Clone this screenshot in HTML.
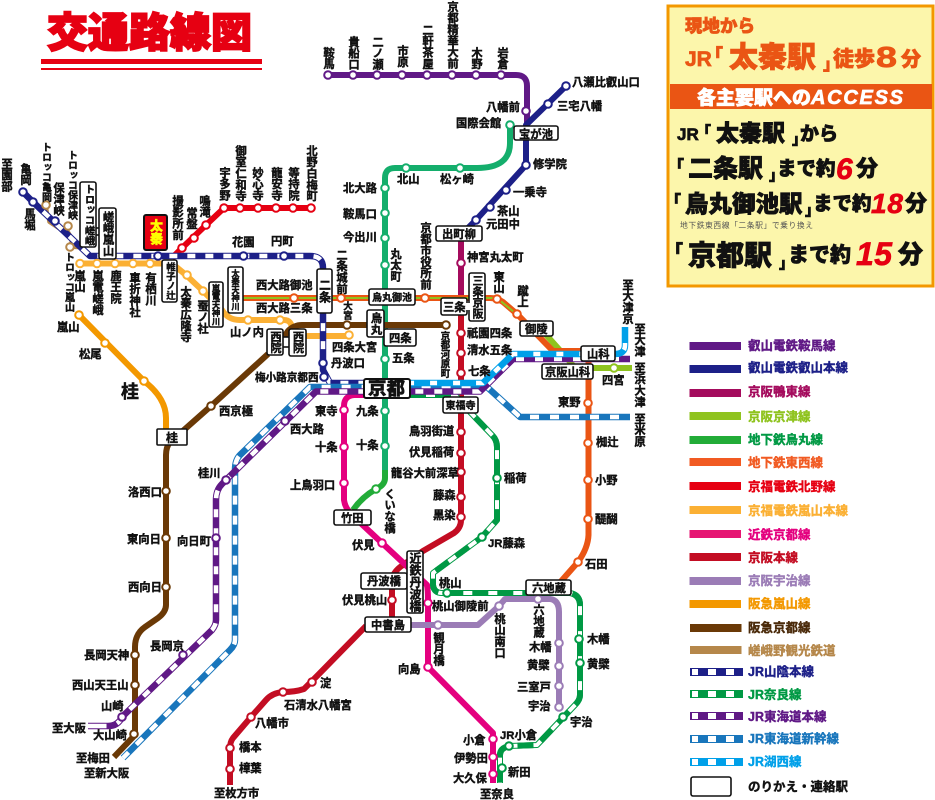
<!DOCTYPE html>
<html lang="ja"><head><meta charset="utf-8"><title>交通路線図</title>
<style>
html,body{margin:0;padding:0;background:#fff}
svg{display:block}
text{font-family:"Liberation Sans","Noto Sans CJK JP",sans-serif;font-weight:700;fill:#111;font-size:11.3px;stroke:#111;stroke-width:.4px}
.v{writing-mode:vertical-rl;text-orientation:upright}
.l{fill:none;stroke-linecap:butt;stroke-linejoin:round}
.h{font-weight:900;stroke-width:.7px}
</style></head><body>
<svg width="935" height="800" viewBox="0 0 935 800" xmlns="http://www.w3.org/2000/svg">
<rect width="935" height="800" fill="#fff"/>
<!-- title -->
<text x="47" y="47" style="font-size:41px;font-weight:900;fill:#e60012;stroke:#e60012;stroke-width:1.8px">交通路線図</text>
<rect x="41" y="59" width="221" height="5" fill="#e60012"/>
<rect x="41" y="68" width="221" height="2" fill="#e60012"/>

<!-- lines: solid -->
<g class="l" stroke-width="6">
<path stroke="#601986" d="M328 75H516Q527 75 527 86V125"/>
<path stroke="#1d2088" d="M566 86L526 125V165L476 220L462 234"/>
<path stroke="#a40b5d" d="M461 232V300"/>
<path stroke="#14ae6c" d="M510 125V143Q510 168 477 168H395Q385 168 385 178V300"/>
<path stroke="#14ae6c" d="M385 300V470"/>
<path stroke="#22ac38" d="M385 470V478Q385 485 376 489Q362 497 353 510"/>
<path stroke="#8fc31f" d="M540 328L565 356L575 368H632"/>
<path stroke="#ea5514" d="M243 298H490Q497 298 503 302L517 314L553 351H590"/>
<path stroke="#8fc31f" stroke-width="2" d="M243 298H497L520 317"/>
<path stroke="#ea5514" d="M588.500 360V535Q588 548 578 562L556 587"/>
<path stroke="#fbb034" d="M80 263.500H172L186 275L203 291L222 310Q228 320 240 320H284Q292 320 292 330"/>
<path stroke="#fbb034" d="M300 336H349"/>
<path stroke="#e60012" d="M172 258L182 248L206 225L224 208H311"/>
<path stroke="#6a3906" d="M446 325H302Q294 325 288 331L282 340"/>
<path stroke="#6a3906" d="M268 354L211 406L176 437L170 442Q166 447 166 455V605Q166 612 158 618L145 627Q135 634 135 647V735L114 757"/>
<path stroke="#f39800" d="M79 315L144 381Q166 398 166 418V430"/>
<path stroke="#b5874a" stroke-width="3.500" d="M46 205L49 222L58 228H66L72 238L70 247L85 248"/>
<path stroke="#c30d23" d="M461 305V520Q461 528 454 533L423 551L403 565Q392 572 392 582V620"/>
<path stroke="#c30d23" d="M366 626L318 675L304 689Q295 692 283 692Q272 693 266 700L251 717L233 738Q230 742 230 748V785"/>
<path stroke="#e4007f" d="M364 395H354Q344 396 344 406V500Q345 508 352 515L382 543L427 585Q428 590 428 600V667L493 733V783"/>
<path stroke="#9b7cb6" d="M405 625H478L499 606L505 599H550Q559 600 559 612V707"/>
</g>

<!-- JR dashed -->
<g class="l">
<!-- Sanin -->
<g stroke-width="6.500">
<path stroke="#1d2088" d="M23 192L33 202L90 256H310Q323 256 323 268V370L330 383H366"/>
<path stroke="#fff" stroke-width="4.500" d="M23 192L33 202L90 256H310Q323 256 323 268V370L330 383H366"/>
<path stroke="#1d2088" stroke-width="6" stroke-dasharray="10 8" d="M23 192L33 202L90 256H310Q323 256 323 268V370L330 383H366"/>
</g>
<!-- Nara -->
<g stroke-width="6">
<path stroke="#009944" d="M410 395H455L470 412L492 435Q497 440 497 447V520L482 537L433 573V585Q434 593 442 593H570Q580 595 580 605V695Q580 700 575 705L537 745L509 746Q500 748 500 755V783"/>
<path stroke="#fff" stroke-width="4" d="M410 395H455L470 412L492 435Q497 440 497 447V520L482 537L433 573V585Q434 593 442 593H570Q580 595 580 605V695Q580 700 575 705L537 745L509 746Q500 748 500 755V783"/>
<path stroke="#009944" stroke-width="6" stroke-dasharray="16 9" d="M410 395H455L470 412L492 435Q497 440 497 447V520L482 537L433 573V585Q434 593 442 593H570Q580 595 580 605V695Q580 700 575 705L537 745L509 746Q500 748 500 755V783"/>
</g>
<!-- Shinkansen -->
<g stroke-width="6.500">
<path stroke="#1976bc" d="M630 417H520L487 387H310L240 455Q235 460 235 470V640Q235 645 230 650L123 758"/>
<path stroke="#fff" stroke-width="4.500" d="M630 417H520L487 387H310L240 455Q235 460 235 470V640Q235 645 230 650L123 758"/>
<path stroke="#1976bc" stroke-width="6" stroke-dasharray="11 9" d="M630 417H520L487 387H310L240 455Q235 460 235 470V640Q235 645 230 650L123 758"/>
</g>
<!-- Tokaido -->
<g stroke-width="6.500">
<path stroke="#601986" d="M630 359H513L480 391.500H316L226 480L222 484Q216 490 216 500V620Q216 625 212 630L122 717Q118 726 108 726H88"/>
<path stroke="#fff" stroke-width="4.500" d="M630 359H513L480 391.500H316L226 480L222 484Q216 490 216 500V620Q216 625 212 630L122 717Q118 726 108 726H88"/>
<path stroke="#601986" stroke-width="6" stroke-dasharray="11 8" d="M630 359H513L480 391.500H316L226 480L222 484Q216 490 216 500V620Q216 625 212 630L122 717Q118 726 108 726H100"/>
</g>
<!-- Kosei -->
<g stroke-width="6.500">
<path stroke="#00a0e9" d="M625 327V345Q625 354 615 354H513L483 383H410"/>
<path stroke="#fff" stroke-width="4.500" d="M625 327V345Q625 354 615 354H513L483 383H410"/>
<path stroke="#00a0e9" stroke-width="6" stroke-dasharray="16 7" d="M625 327V345Q625 354 615 354H513L483 383H410"/>
</g>
</g>

<!-- stations -->
<g fill="#fff" stroke-width="2">
<g stroke="#601986"><circle cx="328" cy="75" r="3.800"/><circle cx="353" cy="75" r="3.800"/><circle cx="377" cy="75" r="3.800"/><circle cx="402" cy="75" r="3.800"/><circle cx="427" cy="75" r="3.800"/><circle cx="452" cy="75" r="3.800"/><circle cx="476" cy="75" r="3.800"/><circle cx="501" cy="75" r="3.800"/><circle cx="526" cy="111" r="3.800"/>
<circle cx="285" cy="421" r="3.800"/><circle cx="226" cy="480" r="3.800"/><circle cx="216" cy="538" r="3.800"/><circle cx="183" cy="655" r="3.800"/><circle cx="122" cy="717" r="3.800"/></g>
<g stroke="#1d2088"><circle cx="566" cy="86" r="3.800"/><circle cx="548" cy="104" r="3.800"/><circle cx="526" cy="165" r="3.800"/><circle cx="506" cy="190" r="3.800"/><circle cx="490" cy="207" r="3.800"/><circle cx="476" cy="220" r="3.800"/>
<circle cx="23" cy="192" r="3.800"/><circle cx="33" cy="202" r="3.800"/><circle cx="55" cy="221" r="3.800"/><circle cx="158" cy="256" r="3.800"/><circle cx="243.500" cy="256" r="3.800"/><circle cx="284" cy="256" r="3.800"/><circle cx="323" cy="363" r="3.800"/><circle cx="324" cy="377" r="3.800"/></g>
<g stroke="#a40b5d"><circle cx="461" cy="263" r="3.800"/></g>
<g stroke="#14ae6c"><circle cx="510" cy="125" r="3.800"/><circle cx="460" cy="168" r="3.800"/><circle cx="406" cy="168" r="3.800"/><circle cx="385" cy="188" r="3.800"/><circle cx="385" cy="213" r="3.800"/><circle cx="385" cy="238" r="3.800"/><circle cx="385" cy="265" r="3.800"/><circle cx="385" cy="359" r="3.800"/><circle cx="385" cy="411" r="3.800"/><circle cx="385" cy="446" r="3.800"/></g>
<g stroke="#22ac38"><circle cx="376" cy="489" r="3.800"/></g>
<g stroke="#ea5514"><circle cx="294" cy="298" r="3.800"/><circle cx="341" cy="298" r="3.800"/><circle cx="425" cy="298" r="3.800"/><circle cx="497" cy="299" r="3.800"/><circle cx="517" cy="314" r="3.800"/><circle cx="588" cy="403" r="3.800"/><circle cx="588" cy="443" r="3.800"/><circle cx="588" cy="480" r="3.800"/><circle cx="588" cy="519" r="3.800"/><circle cx="578" cy="562" r="3.800"/></g>
<g stroke="#8fc31f"><circle cx="614" cy="368" r="3.800"/></g>
<g stroke="#e60012"><circle cx="311" cy="208" r="3.800"/><circle cx="293" cy="208" r="3.800"/><circle cx="276" cy="208" r="3.800"/><circle cx="258" cy="208" r="3.800"/><circle cx="240" cy="208" r="3.800"/><circle cx="224" cy="208" r="3.800"/><circle cx="206" cy="225" r="3.800"/><circle cx="194" cy="238" r="3.800"/><circle cx="182" cy="248" r="3.800"/></g>
<g stroke="#fbb034"><circle cx="80" cy="263.500" r="3.800"/><circle cx="97" cy="263.500" r="3.800"/><circle cx="115" cy="263.500" r="3.800"/><circle cx="133" cy="263.500" r="3.800"/><circle cx="150" cy="263.500" r="3.800"/><circle cx="187" cy="275" r="3.800"/><circle cx="203" cy="291" r="3.800"/><circle cx="248" cy="320" r="3.800"/><circle cx="280" cy="320" r="3.800"/><circle cx="349" cy="335" r="3.800"/></g>
<g stroke="#6a3906"><circle cx="446" cy="325" r="3.800"/><circle cx="347" cy="325" r="3.800"/><circle cx="211" cy="406" r="3.800"/><circle cx="166" cy="491" r="3.800"/><circle cx="166" cy="538" r="3.800"/><circle cx="166" cy="587" r="3.800"/><circle cx="135" cy="655" r="3.800"/><circle cx="135" cy="685" r="3.800"/><circle cx="134" cy="734" r="3.800"/></g>
<g stroke="#f39800"><circle cx="79" cy="315" r="3.800"/><circle cx="105" cy="343" r="3.800"/><circle cx="144" cy="381" r="3.800"/></g>
<g stroke="#b5874a"><circle cx="46" cy="205" r="3.800"/><circle cx="68" cy="226" r="3.800"/><circle cx="70" cy="247" r="3.800"/></g>
<g stroke="#c30d23"><circle cx="461" cy="333" r="3.800"/><circle cx="461" cy="353" r="3.800"/><circle cx="461" cy="373" r="3.800"/><circle cx="461" cy="432" r="3.800"/><circle cx="461" cy="453" r="3.800"/><circle cx="461" cy="472" r="3.800"/><circle cx="461" cy="497" r="3.800"/><circle cx="461" cy="517" r="3.800"/><circle cx="392" cy="600" r="3.800"/><circle cx="312" cy="682" r="3.800"/><circle cx="283" cy="692" r="3.800"/><circle cx="251" cy="717" r="3.800"/><circle cx="230" cy="748" r="3.800"/><circle cx="230" cy="769" r="3.800"/></g>
<g stroke="#e4007f"><circle cx="344" cy="410" r="3.800"/><circle cx="344" cy="447" r="3.800"/><circle cx="344" cy="483" r="3.800"/><circle cx="382" cy="543" r="3.800"/><circle cx="428" cy="603" r="3.800"/><circle cx="428" cy="667" r="3.800"/><circle cx="493" cy="739" r="3.800"/><circle cx="493" cy="757" r="3.800"/><circle cx="493" cy="774" r="3.800"/></g>
<g stroke="#9b7cb6"><circle cx="438" cy="625" r="3.800"/><circle cx="499" cy="606" r="3.800"/><circle cx="538" cy="599" r="3.800"/><circle cx="559" cy="643" r="3.800"/><circle cx="559" cy="666" r="3.800"/><circle cx="559" cy="686" r="3.800"/><circle cx="559" cy="707" r="3.800"/></g>
<g stroke="#009944"><circle cx="497" cy="478" r="3.800"/><circle cx="482" cy="537" r="3.800"/><circle cx="447" cy="593" r="3.800"/><circle cx="579" cy="639" r="3.800"/><circle cx="580" cy="663" r="3.800"/><circle cx="563" cy="717" r="3.800"/><circle cx="509" cy="746" r="3.800"/><circle cx="502" cy="768" r="3.800"/></g>
</g>

<!-- transfer boxes -->
<g fill="#fff" stroke="#111" stroke-width="1.600">
<rect x="95" y="228" width="6" height="7"/>
<rect x="80" y="182" width="16" height="65" rx="2"/><rect x="99" y="208" width="17" height="51" rx="2"/>
<rect x="162" y="260" width="15" height="42" rx="2"/><rect x="209" y="282" width="14" height="45" rx="2"/><rect x="228" y="267" width="15" height="46" rx="2"/>
<rect x="281" y="337" width="10" height="10"/>
<rect x="267" y="329" width="16" height="26" rx="2"/><rect x="289" y="329" width="17" height="27" rx="2"/>
<rect x="317" y="269" width="15" height="44" rx="2"/><rect x="369" y="289" width="46" height="16" rx="2"/>
<rect x="367" y="310" width="17" height="27" rx="2"/><rect x="384" y="329" width="32" height="17" rx="2"/>
<rect x="364" y="379" width="46" height="19" rx="2" stroke-width="2"/>
<rect x="441" y="298" width="26" height="17" rx="2"/><rect x="469" y="273" width="16" height="48" rx="2"/><rect x="466" y="303" width="4" height="7" stroke="none"/>
<rect x="443" y="397" width="35" height="16" rx="2"/><rect x="520" y="321" width="33" height="15" rx="2"/>
<rect x="581" y="346" width="34" height="15" rx="2"/><rect x="542" y="364" width="51" height="15" rx="2"/>
<rect x="334" y="510" width="37" height="15" rx="2"/><rect x="361" y="573" width="46" height="16" rx="2"/>
<rect x="407" y="551" width="16" height="62" rx="2"/><rect x="365" y="617" width="46" height="15" rx="2"/>
<rect x="526" y="580" width="45" height="15" rx="2"/><rect x="157" y="429" width="30" height="16" rx="1"/>
<rect x="514" y="126" width="44" height="14" rx="2"/><rect x="436" y="226" width="46" height="15" rx="2"/>
<rect x="691" y="777" width="40" height="19" rx="2"/>
</g>
<rect x="144" y="215" width="23" height="35" rx="2" fill="#e60012" stroke="#111" stroke-width="2"/>
<text class="v" x="155.500" y="219" style="font-size:13px;fill:#ff0;stroke:#ff0;font-weight:900">太秦</text>

<!-- box labels -->
<g>
<text class="v" x="88" y="184" style="font-size:10.300px">トロッコ嵯峨</text>
<text class="v" x="107.500" y="211" style="font-size:11.300px">嵯峨嵐山</text>
<text class="v" x="169.500" y="262" style="font-size:9.500px">帷子ノ辻</text>
<text class="v" x="216" y="284" style="font-size:8.300px">嵐電天神川</text>
<text class="v" x="235.500" y="269" style="font-size:8.300px">太秦天神川</text>
<text class="v" x="275" y="331" style="font-size:11.300px">西院</text>
<text class="v" x="297.500" y="331" style="font-size:11.300px">西院</text>
<text class="v" x="324.500" y="279" style="font-size:12px">二条</text>
<text x="372" y="301" style="font-size:10px">烏丸御池</text>
<text class="v" x="375.500" y="312" style="font-size:11.500px">烏丸</text>
<text x="389" y="342" style="font-size:11.300px">四条</text>
<text x="368" y="395" style="font-size:18.500px;font-weight:900">京都</text>
<text x="443" y="311" style="font-size:11.300px">三条</text>
<text class="v" x="477" y="275" style="font-size:11px">三条京阪</text>
<text x="445.500" y="409" style="font-size:10px">東福寺</text>
<text x="525" y="333" style="font-size:11.300px">御陵</text>
<text x="587" y="358" style="font-size:11.300px">山科</text>
<text x="545" y="376" style="font-size:11.300px">京阪山科</text>
<text x="341" y="522" style="font-size:11.300px">竹田</text>
<text x="367" y="585" style="font-size:11.300px">丹波橋</text>
<text class="v" x="415" y="552" style="font-size:12px">近鉄丹波橋</text>
<text x="371" y="629" style="font-size:11.300px">中書島</text>
<text x="532" y="592" style="font-size:11.300px">六地蔵</text>
<text x="166" y="442" style="font-size:12px">桂</text>
<text x="519" y="138" style="font-size:11.300px">宝が池</text>
<text x="442" y="238" style="font-size:11.300px">出町柳</text>
</g>

<!-- vertical labels -->
<g>
<text class="v" x="6" y="158">至園部</text>
<text class="v" x="25" y="163">亀岡</text>
<text class="v" x="29" y="208">馬堀</text>
<text class="v" x="45" y="142" style="font-size:10px">トロッコ亀岡</text>
<text class="v" x="58" y="182">保津峡</text>
<text class="v" x="71" y="150" style="font-size:10px">トロッコ保津峡</text>
<text class="v" x="68" y="252" style="font-size:10px">トロッコ嵐山</text>
<text class="v" x="79" y="270">嵐山</text>
<text class="v" x="97" y="270">嵐電嵯峨</text>
<text class="v" x="115" y="270">鹿王院</text>
<text class="v" x="134" y="272">車折神社</text>
<text class="v" x="150" y="272">有栖川</text>
<text class="v" x="185" y="286">太秦広隆寺</text>
<text class="v" x="202" y="300">蚕ノ社</text>
<text class="v" x="177" y="195">撮影所前</text>
<text class="v" x="191" y="207">常盤</text>
<text class="v" x="204" y="195">鳴滝</text>
<text class="v" x="224" y="167">宇多野</text>
<text class="v" x="240" y="145">御室仁和寺</text>
<text class="v" x="257" y="167">妙心寺</text>
<text class="v" x="276" y="167">龍安寺</text>
<text class="v" x="293" y="167">等持院</text>
<text class="v" x="311" y="145">北野白梅町</text>
<text class="v" x="328" y="47">鞍馬</text>
<text class="v" x="353" y="36">貴船口</text>
<text class="v" x="377" y="36">二ノ瀬</text>
<text class="v" x="402" y="45">市原</text>
<text class="v" x="427" y="24">二軒茶屋</text>
<text class="v" x="452" y="1">京都精華大前</text>
<text class="v" x="476" y="47">木野</text>
<text class="v" x="502" y="47">岩倉</text>
<text class="v" x="395" y="248">丸太町</text>
<text class="v" x="341" y="249">二条城前</text>
<text class="v" x="425" y="222">京都市役所前</text>
<text class="v" x="498" y="271">東山</text>
<text class="v" x="522" y="285">蹴上</text>
<text class="v" x="346.500" y="301" style="font-size:9.500px">大宮</text>
<text class="v" x="445" y="331" style="font-size:9.400px">京都河原町</text>
<text class="v" x="389" y="488">くいな橋</text>
<text class="v" x="627" y="279">至大津京</text>
<text class="v" x="639" y="323">至大津</text>
<text class="v" x="639" y="362">至浜大津</text>
<text class="v" x="639" y="413">至米原</text>
<text class="v" x="438" y="632">観月橋</text>
<text class="v" x="499" y="613">桃山南口</text>
<text class="v" x="538" y="604">六地蔵</text>
</g>

<!-- horizontal labels -->
<g>
<text x="232" y="246">花園</text><text x="271" y="245">円町</text>
<text x="256" y="289">西大路御池</text><text x="256" y="312">西大路三条</text>
<text x="230" y="336">山ノ内</text><text x="57" y="331">嵐山</text><text x="79" y="358">松尾</text>
<text x="121" y="398" style="font-size:18px">桂</text>
<text x="332" y="351">四条大宮</text><text x="331" y="367">丹波口</text>
<text x="255" y="381" style="font-size:10.600px">梅小路京都西</text><text x="392" y="362">五条</text>
<text x="467" y="337">祇園四条</text><text x="467" y="354">清水五条</text><text x="468" y="375">七条</text>
<text x="315" y="415">東寺</text><text x="356" y="415">九条</text><text x="290" y="433">西大路</text>
<text x="315" y="451">十条</text><text x="356" y="449">十条</text><text x="290" y="489">上鳥羽口</text>
<text x="352" y="549">伏見</text>
<text x="409" y="435">鳥羽街道</text><text x="409" y="456">伏見稲荷</text><text x="391" y="477">龍谷大前深草</text>
<text x="433" y="499">藤森</text><text x="433" y="519">黒染</text>
<text x="504" y="482">稲荷</text><text x="488" y="547">JR藤森</text>
<text x="558" y="406">東野</text><text x="596" y="446">椥辻</text><text x="595" y="484">小野</text><text x="595" y="523">醍醐</text>
<text x="585" y="568">石田</text><text x="602" y="384">四宮</text>
<text x="439" y="587">桃山</text><text x="432" y="610">桃山御陵前</text><text x="342" y="604">伏見桃山</text>
<text x="529" y="651">木幡</text><text x="527" y="669">黄檗</text><text x="517" y="691">三室戸</text><text x="528" y="710">宇治</text>
<text x="587" y="643">木幡</text><text x="587" y="668">黄檗</text><text x="570" y="726">宇治</text>
<text x="398" y="673">向島</text><text x="463" y="744">小倉</text><text x="454" y="762">伊勢田</text><text x="453" y="782">大久保</text>
<text x="500" y="739">JR小倉</text><text x="508" y="776">新田</text><text x="480" y="798">至奈良</text>
<text x="320" y="687">淀</text><text x="284" y="709">石清水八幡宮</text><text x="255" y="727">八幡市</text>
<text x="239" y="751">橋本</text><text x="239" y="772">樟葉</text><text x="214" y="797">至枚方市</text>
<text x="219" y="415">西京極</text><text x="198" y="477">桂川</text><text x="177" y="545">向日町</text>
<text x="128" y="496">洛西口</text><text x="127" y="543">東向日</text><text x="128" y="591">西向日</text>
<text x="84" y="659">長岡天神</text><text x="150" y="650">長岡京</text><text x="72" y="689">西山天王山</text>
<text x="101" y="710">山崎</text><text x="52" y="732">至大阪</text><text x="93" y="739">大山崎</text>
<text x="76" y="762">至梅田</text><text x="84" y="777">至新大阪</text>
<text x="486" y="111">八幡前</text><text x="456" y="127">国際会館</text>
<text x="572" y="86">八瀬比叡山口</text><text x="557" y="110">三宅八幡</text>
<text x="533" y="168">修学院</text><text x="513" y="196">一乗寺</text><text x="497" y="215">茶山</text><text x="486" y="228">元田中</text>
<text x="467" y="261">神宮丸太町</text>
<text x="397" y="183">北山</text><text x="440" y="183">松ヶ崎</text>
<text x="343" y="192">北大路</text><text x="343" y="218">鞍馬口</text><text x="343" y="241">今出川</text>
</g>

<!-- info panel -->
<rect x="668" y="6" width="265" height="280" fill="#fcf6ab" stroke="#f39800" stroke-width="3"/>
<g style="font-weight:900">
<text x="685" y="32" class="h" style="font-size:17.500px;fill:#ea5514;stroke:#ea5514">現地から</text>
<text x="685" y="66" class="h" style="font-size:21px;fill:#ea5514;stroke:#ea5514">JR</text>
<text x="705" y="62" class="h" style="font-size:18px;fill:#ea5514;stroke:#ea5514">「</text>
<text x="729" y="67" class="h" style="font-size:29px;fill:#ea5514;stroke:#ea5514">太秦駅</text>
<text x="823" y="70" class="h" style="font-size:17px;fill:#ea5514;stroke:#ea5514">」</text>
<text x="833" y="66" class="h" style="font-size:21px;fill:#ea5514;stroke:#ea5514">徒歩</text>
<text transform="translate(876,67) scale(1.300,1)" class="h" style="font-size:29px;fill:#ea5514;stroke:#ea5514">8</text>
<text x="901" y="66" class="h" style="font-size:20px;fill:#ea5514;stroke:#ea5514">分</text>
<rect x="670" y="84" width="262" height="25" fill="#ea5514"/>
<text x="697" y="104" class="h" style="font-size:19px;fill:#fff;stroke:#fff">各主要駅への</text>
<text x="811" y="104" class="h" style="font-size:20px;fill:#fff;stroke:#fff;font-style:italic" textLength="92">ACCESS</text>

<text x="677" y="140" class="h" style="font-size:17px">JR</text>
<text x="696" y="137" class="h" style="font-size:15px">「</text>
<text x="716" y="141" class="h" style="font-size:23px">太秦駅</text>
<text x="792" y="144" class="h" style="font-size:15px">」</text>
<text x="800" y="140" class="h" style="font-size:19px">から</text>

<text x="668" y="172" class="h" style="font-size:16px">「</text>
<text x="688" y="177" class="h" style="font-size:25px">二条駅</text>
<text x="769" y="180" class="h" style="font-size:15px">」</text>
<text x="777" y="175" class="h" style="font-size:19.500px">まで約</text>
<text x="836" y="179" class="h" style="font-size:30px;fill:#e60012;stroke:#e60012;font-style:italic">6</text>
<text x="856" y="176" class="h" style="font-size:22px">分</text>

<text x="665" y="207" class="h" style="font-size:16px">「</text>
<text x="685" y="212" class="h" style="font-size:23.500px">烏丸御池駅</text>
<text x="805" y="215" class="h" style="font-size:15px">」</text>
<text x="813" y="210" class="h" style="font-size:19.500px">まで約</text>
<text x="871" y="213" class="h" style="font-size:28px;fill:#e60012;stroke:#e60012;font-style:italic" textLength="32">18</text>
<text x="905" y="211" class="h" style="font-size:22px">分</text>

<text x="680" y="228" style="font-size:7.800px;fill:#555;stroke:none;font-weight:400;letter-spacing:.55px">地下鉄東西線「二条駅」で乗り換え</text>

<text x="665" y="258" class="h" style="font-size:18px">「</text>
<text x="688" y="265" class="h" style="font-size:28px">京都駅</text>
<text x="779" y="268" class="h" style="font-size:15px">」</text>
<text x="788" y="262" class="h" style="font-size:21px">まで約</text>
<text x="856" y="265" class="h" style="font-size:32px;fill:#e60012;stroke:#e60012;font-style:italic" textLength="36">15</text>
<text x="898" y="263" class="h" style="font-size:25px">分</text>
</g>

<!-- legend -->
<g>
<rect x="689.500" y="342" width="51.500" height="8" fill="#601986"/>
<rect x="689.500" y="365" width="51.500" height="8" fill="#1d2088"/>
<rect x="689.500" y="389" width="51.500" height="8" fill="#a40b5d"/>
<rect x="689.500" y="412" width="51.500" height="8" fill="#8fc31f"/>
<rect x="689.500" y="436" width="51.500" height="8" fill="#22ac38"/>
<rect x="689.500" y="458" width="51.500" height="8" fill="#f15a22"/>
<rect x="689.500" y="482" width="51.500" height="8" fill="#e60012"/>
<rect x="689.500" y="506" width="51.500" height="8" fill="#fbb034"/>
<rect x="689.500" y="530" width="51.500" height="8" fill="#e61673"/>
<rect x="689.500" y="553" width="51.500" height="8" fill="#c30d23"/>
<rect x="689.500" y="577" width="51.500" height="8" fill="#9b7cb6"/>
<rect x="689.500" y="600" width="51.500" height="8" fill="#f39800"/>
<rect x="690" y="624" width="51.500" height="8" fill="#6a3906"/>
<rect x="690" y="646" width="51.500" height="8" fill="#b5874a"/>
</g>
<g stroke-width="8">
<path d="M690 672H743" stroke="#1d2088"/><path d="M692 672H743" stroke="#fff" stroke-width="6"/><path d="M698 672H743" stroke="#1d2088" stroke-dasharray="10 8"/>
<path d="M690 694H743" stroke="#009944"/><path d="M692 694H743" stroke="#fff" stroke-width="6"/><path d="M698 694H743" stroke="#009944" stroke-dasharray="10 8"/>
<path d="M690 716H743" stroke="#601986"/><path d="M692 716H743" stroke="#fff" stroke-width="6"/><path d="M698 716H743" stroke="#601986" stroke-dasharray="10 8"/>
<path d="M690 739H743" stroke="#1976bc"/><path d="M692 739H743" stroke="#fff" stroke-width="6"/><path d="M698 739H743" stroke="#1976bc" stroke-dasharray="10 8"/>
<path d="M690 762H743" stroke="#00a0e9"/><path d="M692 762H743" stroke="#fff" stroke-width="6"/><path d="M698 762H743" stroke="#00a0e9" stroke-dasharray="10 8"/>
</g>
<g>
<text x="748" y="350" style="font-size:12.500px;fill:#601986;stroke:#601986">叡山電鉄鞍馬線</text>
<text x="748" y="372" style="font-size:12.500px;fill:#1d2088;stroke:#1d2088">叡山電鉄叡山本線</text>
<text x="748" y="396" style="font-size:12.500px;fill:#a40b5d;stroke:#a40b5d">京阪鴨東線</text>
<text x="748" y="421" style="font-size:12.500px;fill:#8fc31f;stroke:#8fc31f">京阪京津線</text>
<text x="748" y="444" style="font-size:12.500px;fill:#009944;stroke:#009944">地下鉄烏丸線</text>
<text x="748" y="467" style="font-size:12.500px;fill:#f15a22;stroke:#f15a22">地下鉄東西線</text>
<text x="748" y="491" style="font-size:12.500px;fill:#e60012;stroke:#e60012">京福電鉄北野線</text>
<text x="748" y="515" style="font-size:12.500px;fill:#fbb034;stroke:#fbb034">京福電鉄嵐山本線</text>
<text x="748" y="539" style="font-size:12.500px;fill:#e4007f;stroke:#e4007f">近鉄京都線</text>
<text x="748" y="562" style="font-size:12.500px;fill:#c30d23;stroke:#c30d23">京阪本線</text>
<text x="748" y="585" style="font-size:12.500px;fill:#9b7cb6;stroke:#9b7cb6">京阪宇治線</text>
<text x="748" y="608" style="font-size:12.500px;fill:#f39800;stroke:#f39800">阪急嵐山線</text>
<text x="748" y="632" style="font-size:12.500px;fill:#4a2a0a;stroke:#4a2a0a">阪急京都線</text>
<text x="748" y="655" style="font-size:12.500px;fill:#b5874a;stroke:#b5874a">嵯峨野観光鉄道</text>
<text x="748" y="676" style="font-size:12.500px;fill:#1d2088;stroke:#1d2088">JR山陰本線</text>
<text x="748" y="699" style="font-size:12.500px;fill:#009944;stroke:#009944">JR奈良線</text>
<text x="748" y="721" style="font-size:12.500px;fill:#601986;stroke:#601986">JR東海道本線</text>
<text x="748" y="743" style="font-size:12.500px;fill:#1976bc;stroke:#1976bc">JR東海道新幹線</text>
<text x="748" y="766" style="font-size:12.500px;fill:#00a0e9;stroke:#00a0e9">JR湖西線</text>
<text x="748" y="791" style="font-size:12.500px">のりかえ・連絡駅</text>
</g>
</svg>
</body></html>
